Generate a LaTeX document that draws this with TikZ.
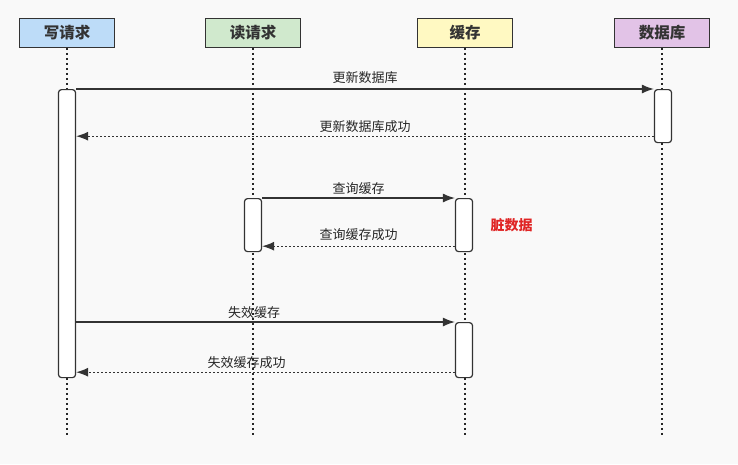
\documentclass[tikz,border=0pt]{standalone}
\usepackage{fontspec}
\newfontfamily\cjk{Noto Sans CJK SC}
\usetikzlibrary{arrows.meta, positioning}

\definecolor{bggray}{HTML}{F9F9F9}
\definecolor{linegray}{HTML}{333333}
\definecolor{wblue}{HTML}{BDDCF8}
\definecolor{rgreen}{HTML}{D0E9CD}
\definecolor{cyellow}{HTML}{FFF9C2}
\definecolor{dpurple}{HTML}{E2C3E7}
\definecolor{dirtyred}{HTML}{E02525}

\begin{document}
\begin{tikzpicture}[
    x=1pt, y=-1pt,
    head/.style={draw=linegray, line width=0.9pt, minimum width=95pt,
      minimum height=29pt, text=linegray,
      font=\cjk\bfseries\fontsize{15.5}{17}\selectfont},
    bar/.style={draw=linegray, fill=white, rounded corners=3pt,
      line width=1.2pt, minimum width=17pt, anchor=north},
    life/.style={draw=black!85, line width=1.6pt, dash pattern=on 2pt off 3pt},
    call/.style={draw=linegray, line width=1.3pt, -{Latex[length=12pt,width=9pt]}},
    reply/.style={call, dash pattern=on 2pt off 2pt},
    msg/.style={font=\cjk\fontsize{13}{15}\selectfont, text=black!85, inner sep=2pt}
]
\fill[bggray] (0,0) rectangle (738,464);
\useasboundingbox (0,0) rectangle (738,464);

% header boxes
\node[head, fill=wblue] (write) at (67,33) {写请求};
\node[head, fill=rgreen] (read) at (253,33) {读请求};
\node[head, fill=cyellow] (cache) at (465,33) {缓存};
\node[head, fill=dpurple] (db) at (662,33) {数据库};

% lifelines
\coordinate (writeend) at (67,437);
\coordinate (readend) at (253,437);
\coordinate (cacheend) at (465,437);
\coordinate (dbend) at (662,437);
\draw[life] (write.south) -- (writeend);
\draw[life] (read.south) -- (readend);
\draw[life] (cache.south) -- (cacheend);
\draw[life] (db.south) -- (dbend);

% activation bars
\node[bar, minimum height=288pt] (writebar) at (67,89) {};
\node[bar, minimum height=53pt] (dbbar) at (663,89) {};
\node[bar, minimum height=53pt] (readbar) at (253,198) {};
\node[bar, minimum height=53pt] (cachebar) at (464,198) {};
\node[bar, minimum height=55pt] (cachebarb) at (464,322) {};

% messages
\draw[call] (writebar.east |- dbbar.north west) -- (dbbar.north west)
  node[msg, midway, above=3pt] {更新数据库};
\draw[reply] ([yshift=7pt]dbbar.south west) -- ([yshift=7pt]dbbar.south west -| writebar.east)
  node[msg, midway, above=1pt] {更新数据库成功};
\draw[call] (readbar.north east) -- (cachebar.north west)
  node[msg, midway, above=1pt] {查询缓存};
\draw[reply] ([yshift=6pt]cachebar.south west) -- ([yshift=6pt]readbar.south east)
  node[msg, midway, above=3pt] {查询缓存成功};
\draw[call] (writebar.east |- cachebarb.north west) -- (cachebarb.north west)
  node[msg, pos=0.47, above=1pt] {失效缓存};
\draw[reply] ([yshift=6pt]cachebarb.south west) -- ([yshift=6pt]cachebarb.south west -| writebar.east)
  node[msg, pos=0.55, above=1pt] {失效缓存成功};

\node[font=\cjk\bfseries\fontsize{14}{16}\selectfont, text=dirtyred, right=14pt of cachebar] (dirty) {脏数据};
\end{tikzpicture}
\end{document}
